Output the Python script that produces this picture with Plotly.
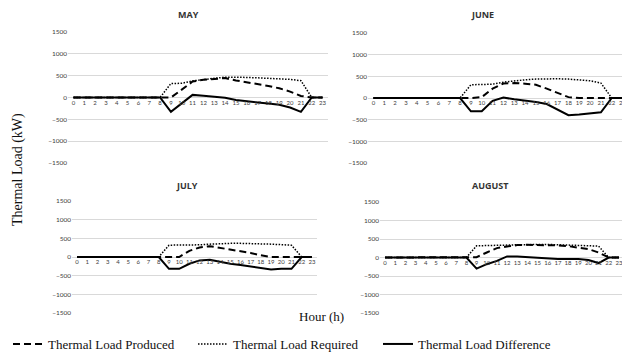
import plotly.graph_objects as go

hours = list(range(24))
hour_labels = [str(h) for h in hours]
y_ticks = [-1500, -1000, -500, 0, 500, 1000, 1500]

months = ["MAY", "JUNE", "JULY", "AUGUST"]

may_produced = [0]*9 + [0, 180, 365, 405, 428, 444, 390, 350, 305, 265, 210, 135, 35, 0, 0]
may_required = [0]*9 + [320, 325, 380, 415, 440, 465, 467, 460, 450, 440, 430, 415, 385, 0, 0]
may_difference = [0]*9 + [-330, -135, 60, 38, 20, -5, -55, -90, -115, -140, -165, -230, -330, 0, 0]

june_produced = [0]*9 + [0, 20, 215, 335, 345, 330, 305, 215, 115, 20, 0, 0, 0, 0, 0]
june_required = [0]*9 + [306, 306, 318, 365, 400, 420, 436, 444, 444, 436, 420, 398, 345, 0, 0]
june_difference = [0]*9 + [-306, -306, -65, 10, -30, -55, -92, -140, -268, -398, -383, -360, -329, 0, 0]

july_produced = [0]*9 + [0, 0, 165, 255, 290, 245, 208, 163, 109, 45, 0, 0, 0, 0, 0]
july_required = [0]*9 + [317, 317, 317, 326, 344, 362, 365, 365, 362, 355, 344, 330, 317, 0, 0]
july_difference = [0]*9 + [-317, -317, -181, -91, -72, -136, -181, -217, -254, -290, -335, -317, -317, 0, 0]

august_produced = [0]*9 + [10, 136, 254, 299, 335, 344, 344, 335, 326, 308, 272, 227, 136, 0, 0]
august_required = [0]*9 + [317, 317, 326, 335, 344, 353, 353, 353, 344, 335, 326, 317, 308, 0, 0]
august_difference = [0]*9 + [-300, -181, -91, 30, 30, 10, -20, -40, -40, -40, -40, -70, -150, 0, 0]

data = [
    (may_produced, may_required, may_difference),
    (june_produced, june_required, june_difference),
    (july_produced, july_required, july_difference),
    (august_produced, august_required, august_difference),
]

# the page body has an 8px margin, so the figure is drawn 8px in from the window corner
OFF = 8
W, H = 630 - OFF, 353 - OFF


def px(x):
    return (x - OFF) / W


def py(y):
    return 1 - (y - OFF) / H


# plot areas in window pixels: (left, right, top, bottom)
boxes = [(68, 328, 32, 163), (368, 628, 33, 163), (72, 317, 201, 313), (380, 624, 202, 313)]
title_pos = [(188, 15), (482, 15), (187, 185), (490, 185)]

fig = go.Figure()
layout = {}
series_names = ["Thermal Load Produced", "Thermal Load Required", "Thermal Load Difference"]
dashes = ["7px,4px", "1.5px,1.5px", "solid"]
widths = [2, 1.5, 2]

for i, (box, vals) in enumerate(zip(boxes, data)):
    n = "" if i == 0 else str(i + 1)
    xa, ya = "x" + n, "y" + n
    l, r, t, b = box
    ydom = [py(b), py(t)]
    for k in range(3):
        fig.add_trace(go.Scatter(
            x=hours, y=vals[k], mode="lines", xaxis=xa, yaxis=ya,
            name=series_names[k], showlegend=(i == 0),
            line=dict(color="black", width=widths[k], dash=dashes[k]),
        ))
    layout["xaxis" + n] = dict(
        domain=[px(l), px(r)], range=[-0.5, 23.5], anchor="free",
        position=(ydom[0] + ydom[1]) / 2,
        tickmode="array", tickvals=hours, ticktext=hour_labels,
        showgrid=False, zeroline=False, showline=False, ticks="",
        tickfont=dict(family="Lato", size=6, color="#404040"),
        automargin=False, fixedrange=True,
    )
    layout["yaxis" + n] = dict(
        domain=ydom, range=[-1500, 1500], anchor=xa,
        tickmode="array", tickvals=y_ticks,
        showgrid=True, gridcolor="#d9d9d9", gridwidth=1,
        zeroline=False, showline=False, ticks="",
        tickfont=dict(family="Lato", size=6.5, color="#404040"),
        automargin=False, fixedrange=True,
    )

annotations = []
for (tx, ty), m in zip(title_pos, months):
    annotations.append(dict(
        x=px(tx), y=py(ty), xref="paper", yref="paper", text="<b>" + m + "</b>",
        showarrow=False, font=dict(family="Open Sans", size=9, color="#333333"),
        xanchor="center", yanchor="middle",
    ))
annotations.append(dict(
    x=px(322), y=py(316), xref="paper", yref="paper", text="Hour (h)",
    showarrow=False, font=dict(family="Liberation Serif", size=13, color="#111111"),
    xanchor="center", yanchor="middle",
))
annotations.append(dict(
    x=px(18), y=py(170), xref="paper", yref="paper", text="Thermal Load (kW)",
    showarrow=False, textangle=-90, font=dict(family="Liberation Serif", size=14, color="#111111"),
    xanchor="center", yanchor="middle",
))

fig.update_layout(
    width=W, height=H, margin=dict(l=0, r=0, t=0, b=0, autoexpand=False),
    paper_bgcolor="white", plot_bgcolor="white",
    annotations=annotations,
    legend=dict(
        orientation="h", x=0, y=py(344), xanchor="left", yanchor="middle",
        font=dict(family="Liberation Serif", size=13, color="#111111"),
        entrywidth=140, entrywidthmode="pixels", bgcolor="rgba(0,0,0,0)",
        itemwidth=30, tracegroupgap=0,
    ),
    **layout,
)

fig.write_html("out.html")
